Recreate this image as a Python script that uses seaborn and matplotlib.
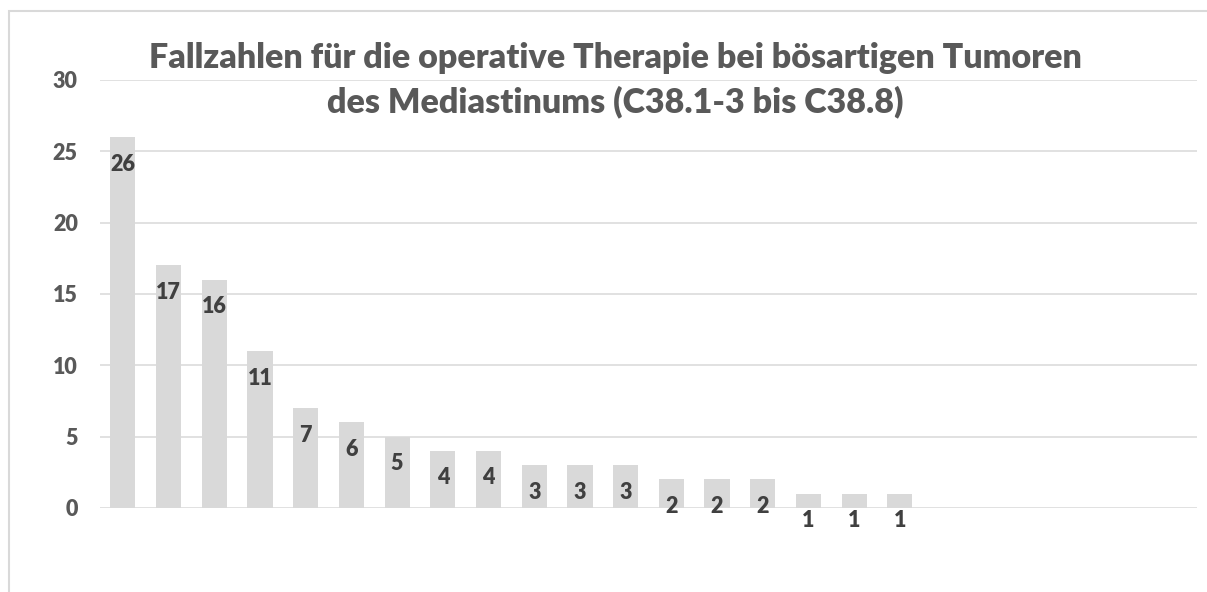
import matplotlib
matplotlib.use("Agg")
import matplotlib.pyplot as plt
import numpy as np
import pandas as pd
import seaborn as sns
from matplotlib.patches import Rectangle

# Fallzahlen je Kategorie (Kategorien ohne Beschriftung, letzte 6 leer)
categories = [f"K{i}" for i in range(1, 25)]
values = [26, 17, 16, 11, 7, 6, 5, 4, 4, 3, 3, 3, 2, 2, 2, 1, 1, 1,
          np.nan, np.nan, np.nan, np.nan, np.nan, np.nan]
y_ticks = [0, 5, 10, 15, 20, 25, 30]
title = ("Fallzahlen für die operative Therapie bei bösartigen Tumoren\n"
         "des Mediastinums (C38.1-3 bis C38.8)")

sns.set_theme(style="white")
plt.rcParams["font.family"] = ["Lato", "DejaVu Sans"]

W, H = 1207, 592
fig = plt.figure(figsize=(W / 100, H / 100), dpi=100)
ax = fig.add_axes([100 / W, (H - 508) / H, 1097 / W, 428 / H])

df = pd.DataFrame({"kat": categories, "n": values})
sns.barplot(data=df, x="kat", y="n", order=categories, color="#D9D9D9",
            saturation=1, width=0.55, ax=ax, errorbar=None, edgecolor="none")

ax.set_ylim(0, 30)
ax.set_xlim(-0.5, len(categories) - 0.5)
ax.set_yticks(y_ticks)
ax.set_yticklabels([str(t) for t in y_ticks], fontsize=15.5, fontweight="heavy",
                   color="#595959")
ax.set_xticks([])
ax.set_xlabel("")
ax.set_ylabel("")
ax.tick_params(axis="y", length=0, pad=16)
ax.set_axisbelow(True)
ax.yaxis.grid(True, color="#D9D9D9", linewidth=1.1)
for s in ax.spines.values():
    s.set_visible(False)

for bar in ax.patches:
    h = bar.get_height()
    if np.isnan(h) or h == 0:
        continue
    ax.annotate(f"{int(h)}", (bar.get_x() + bar.get_width() / 2, h),
                xytext=(0, -27), textcoords="offset pixels",
                ha="center", va="center", fontsize=15.5, fontweight="heavy",
                color="#404040")

fig.text(615 / W, 1 - 80 / H, title, ha="center", va="center", fontsize=24.5,
         fontweight="heavy", color="#595959", linespacing=1.45)

# Diagrammrahmen
fig.add_artist(Rectangle((9 / W, -0.5), 2, 0.5 + (H - 11) / H,
                         transform=fig.transFigure, fill=False,
                         edgecolor="#D9D9D9", linewidth=1.5))

fig.savefig("out.png", dpi=100)
